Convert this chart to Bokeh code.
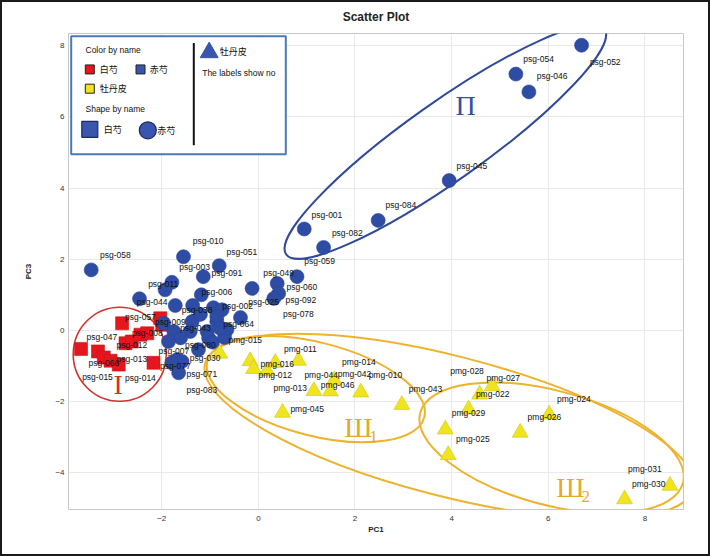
import math
from bokeh.plotting import figure
from bokeh.layouts import column
from bokeh.models import Range1d, FixedTicker
from bokeh.core.properties import value
from bokeh.embed import file_html
from bokeh.resources import INLINE

# ---------------- data (PC1, PC3) ----------------
# 赤芍 (psg, blue circles)
psg_x = [6.69, 5.33, 5.60, 3.95, 2.48, 0.95, 1.35,
         -3.46, -1.55, -0.81, -1.14, -1.79, -1.93, -2.46, -1.18, -1.72, -1.36,
         -0.93, -0.75, -0.13, 0.39, 0.42, 0.32, 0.80, -0.37, -1.96, -1.37,
         -0.86, -1.75, -1.41, -1.06, -0.65, -1.61, -1.03, -1.86, -1.24, -1.68,
         -1.58, -1.79, -1.65, -0.95, -0.70, -1.20, -0.86, -0.79]
psg_y = [8.01, 7.20, 6.70, 4.21, 3.09, 2.85, 2.33,
         1.70, 2.07, 1.82, 1.51, 1.35, 1.14, 0.89, 1.00, 0.70, 0.70,
         0.64, 0.58, 1.18, 1.32, 1.04, 0.90, 1.51, 0.36, 0.20, 0.25,
         0.25, -0.03, -0.03, -0.03, 0.02, -0.21, -0.21, -0.31, -0.54, -0.82,
         -0.87, -0.91, -1.19, -0.33, -0.20, 0.45, 0.39, 0.06]

# 白芍 (red squares)
bs_x = [-3.67, -3.32, -3.20, -3.06, -2.89, -2.82, -2.75, -2.62, -2.44, -2.30, -2.17, -2.03, -1.99]
bs_y = [-0.52, -0.59, -0.76, -0.85, -0.96, 0.20, -0.36, -0.31, -0.12, -0.08, -0.91, 0.34, 0.16]

# 牡丹皮 (pmg, yellow triangles)
pmg_x = [-0.80, -0.17, -0.10, 0.18, 0.35, 0.83, 1.15, 1.49, 1.57, 2.12, 2.97, 0.50,
         3.87, 3.93, 4.35, 4.58, 4.84, 5.42, 6.02, 7.58, 8.52]
pmg_y = [-0.65, -0.86, -1.08, -1.14, -0.91, -0.85, -1.70, -1.71, -1.40, -1.74, -2.09, -2.31,
         -2.78, -3.50, -2.22, -1.80, -1.57, -2.87, -2.36, -4.74, -4.36]

# sample labels (text and where it sits, in PC1/PC3 units)
lab_text = ["psg-052", "psg-054", "psg-046", "psg-045", "psg-084", "psg-001", "psg-082", "psg-059",
            "psg-058", "psg-010", "psg-051", "psg-003", "psg-091", "psg-011", "psg-044", "psg-006",
            "psg-049", "psg-060", "psg-092", "psg-078", "psg-025", "psg-002", "psg-038", "psg-009",
            "psg-064", "psg-043", "psg-080", "psg-030", "psg-007", "psg-077", "psg-071", "psg-083",
            "psg-057", "psg-047", "psg-008", "psg-012", "psg-013", "psg-066", "psg-015", "psg-014",
            "pmg-015", "pmg-011", "pmg-016", "pmg-012", "pmg-044", "pmg-014", "pmg-042", "pmg-010",
            "pmg-013", "pmg-046", "pmg-045", "pmg-043", "pmg-028", "pmg-027", "pmg-022", "pmg-024",
            "pmg-029", "pmg-026", "pmg-025", "pmg-031", "pmg-030"]
lab_x = [7.18, 5.80, 6.08, 4.42, 2.95, 1.42, 1.84, 1.27,
         -2.96, -1.04, -0.34, -1.32, -0.65, -1.97, -2.20, -0.86,
         0.42, 0.90, 0.88, 0.83, 0.11, -0.43, -1.27, -1.82,
         -0.41, -1.30, -1.20, -1.10, -1.75, -1.72, -1.17, -1.17,
         -2.44, -3.24, -2.30, -2.62, -2.62, -3.20, -3.33, -2.44,
         -0.27, 0.87, 0.39, 0.35, 1.30, 2.08, 1.99, 2.63,
         0.66, 1.64, 1.01, 3.46, 4.32, 5.07, 4.85, 6.53,
         4.35, 5.92, 4.44, 8.00, 8.08]
lab_y = [7.55, 7.62, 7.15, 4.63, 3.52, 3.25, 2.75, 1.95,
         2.12, 2.51, 2.21, 1.77, 1.60, 1.30, 0.79, 1.09,
         1.60, 1.21, 0.86, 0.47, 0.79, 0.70, 0.56, 0.25,
         0.19, 0.06, -0.42, -0.77, -0.59, -0.99, -1.21, -1.68,
         0.37, -0.19, -0.08, -0.40, -0.79, -0.91, -1.31, -1.35,
         -0.26, -0.51, -0.94, -1.24, -1.24, -0.89, -1.22, -1.24,
         -1.63, -1.54, -2.20, -1.64, -1.13, -1.33, -1.78, -1.92,
         -2.31, -2.42, -3.06, -3.90, -4.30]

# group annotations (centre in PC1/PC3 units)
group_names = ["I", "Π", "Ш", "Ш"]
group_sub = ["", "", "1", "2"]
group_x = [-2.90, 4.29, 2.07, 6.46]
group_y = [-1.51, 6.32, -2.74, -4.42]

x_ticks = [-2, 0, 2, 4, 6, 8]
y_ticks = [-4, -2, 0, 2, 4, 6, 8]

# ---------------- figure ----------------
FONT = "Liberation Sans"
FW, FH = 615, 477
p = figure(width=706, height=552, output_backend="svg", toolbar_location=None,
           x_range=Range1d(-3.93, 8.80), y_range=Range1d(-5.03, 8.34),
           min_border_left=66, min_border_right=25, min_border_top=30, min_border_bottom=45,
           title="Scatter Plot")
p.title.align = "center"
p.title.vertical_align = "top"
p.title.text_font = FONT
p.title.text_font_size = "12px"
p.title.text_font_style = "bold"
p.title.text_color = "#222222"
p.title.standoff = 15

p.outline_line_color = "#c8c8c8"
p.outline_line_width = 1
p.background_fill_color = "white"
p.border_fill_color = "white"

p.xaxis.ticker = FixedTicker(ticks=x_ticks)
p.yaxis.ticker = FixedTicker(ticks=y_ticks)
p.xgrid.ticker = FixedTicker(ticks=x_ticks)
p.ygrid.ticker = FixedTicker(ticks=y_ticks)
p.grid.grid_line_color = "#e9e9e9"
p.grid.grid_line_width = 1

for ax in (p.xaxis[0], p.yaxis[0]):
    ax.axis_line_color = None
    ax.major_tick_line_color = None
    ax.minor_tick_line_color = None
    ax.major_tick_out = 0
    ax.major_tick_in = 0
    ax.minor_tick_out = 0
    ax.minor_tick_in = 0
    ax.major_label_text_font = FONT
    ax.major_label_text_font_size = "8px"
    ax.major_label_text_color = "#333333"
    ax.axis_label_text_font = FONT
    ax.axis_label_text_font_size = "8px"
    ax.axis_label_text_font_style = "bold"
    ax.axis_label_text_color = "#222222"
p.xaxis.axis_label = "PC1"
p.yaxis.axis_label = "PC3"
p.xaxis.major_label_standoff = 6
p.xaxis.axis_label_standoff = 1
p.yaxis.major_label_standoff = 4
p.yaxis.axis_label_standoff = 19

# ---------------- group ellipses ----------------
p.ellipse(x=-2.87, y=-0.67, width=93, height=94, width_units="screen", height_units="screen",
          fill_color=None, line_color="#d3302e", line_width=1.6)
p.ellipse(x=3.87, y=5.30, width=390, height=78, angle=math.radians(35.3),
          width_units="screen", height_units="screen",
          fill_color=None, line_color="#2f4a9a", line_width=2)
gold = "#eeb32e"
p.ellipse(x=1.19, y=-1.65, width=224, height=93, angle=math.radians(-14.5),
          width_units="screen", height_units="screen",
          fill_color=None, line_color=gold, line_width=2)
p.ellipse(x=6.07, y=-3.30, width=272, height=114, angle=math.radians(-15),
          width_units="screen", height_units="screen",
          fill_color=None, line_color=gold, line_width=2)
p.ellipse(x=3.95, y=-2.69, width=504, height=140, angle=math.radians(-14.4),
          width_units="screen", height_units="screen",
          fill_color=None, line_color=gold, line_width=2)

# ---------------- points ----------------
p.scatter(bs_x, bs_y, marker="square", size=13, fill_color="#e5161d", line_color="#c81419", line_width=0.6)
p.scatter(pmg_x, pmg_y, marker="triangle", size=16, fill_color="#efe41d", line_color="#d2c61a", line_width=0.6)
p.scatter(psg_x, psg_y, marker="circle", size=14, fill_color="#2e4ca4", line_color="#29449a", line_width=0.6)

p.text(lab_x, lab_y, text=lab_text, text_align="center", text_baseline="middle",
       text_font=value(FONT), text_font_size="8.5px", text_color="#111111")

# roman group labels
gcol = ["#d3302e", "#34509f", "#e2a92e", "#e2a92e"]
p.text(group_x, group_y, text=group_names, text_align="center", text_baseline="middle",
       text_font=value("Liberation Serif"), text_font_size="28px", text_color=gcol)
p.text(group_x, group_y, text=group_sub, text_align="left", text_baseline="middle",
       x_offset=11, y_offset=9,
       text_font=value("Liberation Serif"), text_font_size="17px", text_color=gcol)

# ---------------- legend (drawn in frame pixel space) ----------------
p.extra_x_ranges = {"lgx": Range1d(0, FW)}
p.extra_y_ranges = {"lgy": Range1d(FH, 0)}
kw = dict(x_range_name="lgx", y_range_name="lgy")
p.quad(left=[2.7], right=[217.3], top=[2.7], bottom=[121], fill_color="white",
       line_color="#4a7ab6", line_width=2, **kw)
p.segment(x0=[125.3], y0=[9.5], x1=[125.3], y1=[112], line_color="#111111", line_width=2, **kw)
p.scatter([21.3, 72], [36, 36], marker="square", size=9,
          fill_color=["#e5161d", "#3a55ae"], line_color="#222222", line_width=1, **kw)
p.scatter([21.3], [55.3], marker="square", size=9, fill_color="#efe41d", line_color="#222222",
          line_width=1, **kw)
p.scatter([21.3], [96], marker="square", size=16, fill_color="#3a55ae", line_color="#1c2a66",
          line_width=1.2, **kw)
p.scatter([79.3], [97], marker="circle", size=17, fill_color="#3a55ae", line_color="#1c2a66",
          line_width=1.2, **kw)
p.scatter([140.7], [19], marker="triangle", size=18, fill_color="#3a55ae", line_color="#3a55ae",
          **kw)
p.text([17, 17, 133.7], [17, 76, 39.5], text=["Color by name", "Shape by name", "The labels show no"],
       text_align="left", text_baseline="middle", text_font=value(FONT), text_font_size="8.5px",
       text_color="#111111", **kw)
p.text([31.3, 81.3, 31.3, 35.3, 88.7, 151.3], [36, 36, 55.3, 96, 97, 18.5],
       text=["白芍", "赤芍", "牡丹皮", "白芍", "赤芍", "牡丹皮"],
       text_align="left", text_baseline="middle", text_font=value("Noto Sans CJK SC"),
       text_font_size="9px", text_color="#111111", **kw)

layout = column(p, styles={"border": "2px solid #1a1a1a"})
open("out.html", "w").write(file_html(layout, INLINE))
